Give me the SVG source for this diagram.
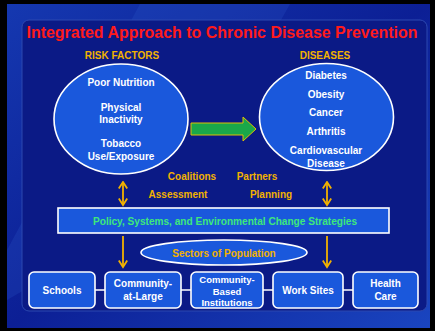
<svg xmlns="http://www.w3.org/2000/svg" width="435" height="331" viewBox="0 0 435 331">
<defs>
<linearGradient id="bg" x1="0" y1="0" x2="1" y2="1">
<stop offset="0" stop-color="#1538b0"/>
<stop offset="0.5" stop-color="#0c1f95"/>
<stop offset="1" stop-color="#1a45c0"/>
</linearGradient>
<marker id="ah" viewBox="0 0 10 10" refX="8.5" refY="5" markerWidth="10" markerHeight="10" orient="auto-start-reverse" markerUnits="userSpaceOnUse">
<path d="M2,0.8 L8.5,5 L2,9.2" fill="none" stroke="#f2b200" stroke-width="1.8"/>
</marker>
<style>
.w{font-family:"Liberation Sans",Arial,sans-serif;font-weight:bold;fill:#ffffff;font-size:10px;text-anchor:middle;dominant-baseline:central}
.s{font-size:9.5px}
.g{font-family:"Liberation Sans",Arial,sans-serif;font-weight:bold;fill:#f2b200;font-size:10px;text-anchor:middle;dominant-baseline:central}
.shape{fill:#1a58dc;stroke:#ffffff;stroke-width:1.6}
.conn{stroke:#f2b200;stroke-width:1.8;fill:none}
</style>
</defs>
<rect x="0" y="0" width="435" height="331" fill="#000"/>
<rect x="7" y="4" width="423" height="324" fill="url(#bg)"/>
<path d="M140,4 L290,4 L180,200 L7,300 L7,250 Z" fill="#3a6ad8" opacity="0.18"/>
<rect x="22" y="20" width="405" height="291" rx="7" fill="#0b1a86" stroke="#2c48b0" stroke-width="1"/>
<text x="222" y="32" font-family="Liberation Sans, Arial, sans-serif" font-weight="bold" font-size="16.5" fill="#ff1a1a" text-anchor="middle" dominant-baseline="central" textLength="391" lengthAdjust="spacingAndGlyphs">Integrated Approach to Chronic Disease Prevention</text>

<g id="risk-factors">
<text class="g" x="122" y="55">RISK FACTORS</text>
<ellipse class="shape" cx="121" cy="119" rx="67" ry="55" stroke-width="2.5"/>
<text class="w" x="121" y="82">Poor Nutrition</text>
<text class="w" x="121" y="107">Physical</text>
<text class="w" x="121" y="119.5">Inactivity</text>
<text class="w" x="121" y="143">Tobacco</text>
<text class="w" x="121" y="156">Use/Exposure</text>
</g>

<g id="diseases">
<text class="g" x="325" y="55">DISEASES</text>
<ellipse class="shape" cx="326.5" cy="117" rx="67" ry="53.5" stroke-width="2.5"/>
<text class="w" x="326" y="75">Diabetes</text>
<text class="w" x="326" y="94">Obesity</text>
<text class="w" x="326" y="112">Cancer</text>
<text class="w" x="326" y="131">Arthritis</text>
<text class="w" x="326" y="150">Cardiovascular</text>
<text class="w" x="326" y="163">Disease</text>
</g>

<g id="labels">
<text class="g" x="192" y="176">Coalitions</text>
<text class="g" x="257" y="176">Partners</text>
<text class="g" x="178" y="194">Assessment</text>
<text class="g" x="271" y="194">Planning</text>
</g>

<g id="policy">
<rect class="shape" x="58" y="208" width="331" height="25"/>
<text class="w" x="225" y="221" style="fill:#3ee87a" textLength="264" lengthAdjust="spacingAndGlyphs">Policy, Systems, and Environmental Change Strategies</text>
</g>

<g id="sectors">
<ellipse class="shape" cx="224" cy="252.5" rx="83" ry="12.5"/>
<text class="g" x="224" y="253">Sectors of Population</text>
</g>

<g id="schools">
<rect class="shape" x="29" y="272" width="66" height="36" rx="5"/>
<text class="w" x="62" y="290">Schools</text>
</g>
<g id="community-at-large">
<rect class="shape" x="105" y="272" width="76" height="36" rx="5"/>
<text class="w" x="143" y="283">Community-</text>
<text class="w" x="143" y="296">at-Large</text>
</g>
<g id="community-based">
<rect class="shape" x="191" y="272" width="72" height="36" rx="5"/>
<text class="w s" x="227" y="279">Community-</text>
<text class="w s" x="227" y="291">Based</text>
<text class="w s" x="227" y="302">Institutions</text>
</g>
<g id="work-sites">
<rect class="shape" x="273" y="272" width="70" height="36" rx="5"/>
<text class="w" x="308" y="290">Work Sites</text>
</g>
<g id="health-care">
<rect class="shape" x="353" y="272" width="65" height="36" rx="5"/>
<text class="w" x="385.5" y="283">Health</text>
<text class="w" x="385.5" y="296">Care</text>
</g>

<g id="connectors">
<path d="M191,123 L243,123 L243,117 L256,129 L243,141 L243,135 L191,135 Z" fill="#1aa84a" stroke="#e0c000" stroke-width="1"/>
<line class="conn" x1="123" y1="182" x2="123" y2="205" marker-start="url(#ah)" marker-end="url(#ah)"/>
<line class="conn" x1="327" y1="182" x2="327" y2="205" marker-start="url(#ah)" marker-end="url(#ah)"/>
<line class="conn" x1="123" y1="236" x2="123" y2="267" marker-end="url(#ah)"/>
<line class="conn" x1="327" y1="236" x2="327" y2="267" marker-end="url(#ah)"/>
<line x1="95" y1="290" x2="105" y2="290" stroke="#fff" stroke-width="1.5"/>
<line x1="181" y1="290" x2="191" y2="290" stroke="#fff" stroke-width="1.5"/>
<line x1="263" y1="290" x2="273" y2="290" stroke="#fff" stroke-width="1.5"/>
<line x1="343" y1="290" x2="353" y2="290" stroke="#fff" stroke-width="1.5"/>
</g>
</svg>
